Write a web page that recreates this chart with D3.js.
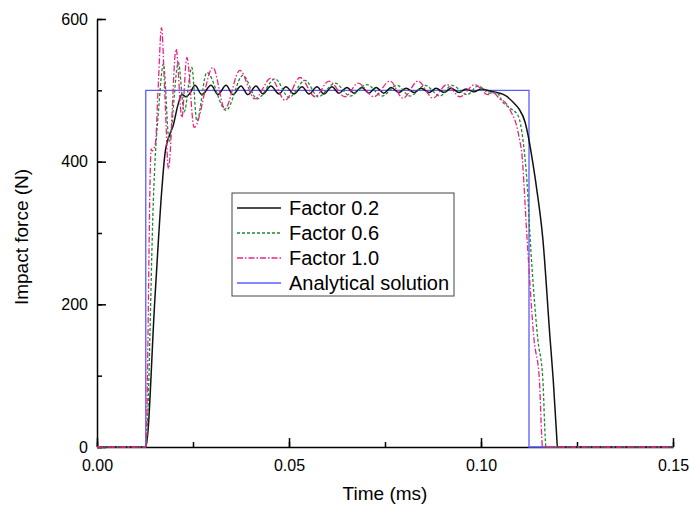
<!DOCTYPE html>
<html>
<head>
<meta charset="utf-8">
<script src="https://cdn.jsdelivr.net/npm/d3@7"></script>
<style>
  body { margin: 0; background: #fff; }
  svg { display: block; font-family: 'Liberation Sans', Arial, sans-serif; }
</style>
</head>
<body>
<svg id="chart" width="690" height="506"></svg>
<script>
// --- Values: [time (ms), force (N)] ---
const factor02 = [
  [0, 0], [0.0127, 0], [0.0151, 210], [0.0168, 355], [0.0177, 411], [0.0190, 439],
  [0.0198, 450], [0.0211, 480], [0.0221, 494], [0.0232, 491], [0.0242, 496],
  [0.0255, 507], [0.0273, 494], [0.0297, 507], [0.0315, 494], [0.0336, 507],
  [0.0354, 494], [0.0375, 506], [0.0393, 494], [0.0414, 506], [0.0432, 495],
  [0.0453, 506], [0.0474, 495], [0.0492, 505], [0.0513, 495], [0.0534, 505],
  [0.0552, 495], [0.0573, 505], [0.0591, 495], [0.0612, 505], [0.0630, 496],
  [0.0651, 504], [0.0669, 496], [0.0690, 504], [0.0708, 496], [0.0727, 504],
  [0.0747, 496], [0.0766, 504], [0.0786, 497], [0.0805, 503], [0.0826, 497],
  [0.0844, 503], [0.0865, 497], [0.0883, 503], [0.0904, 497], [0.0922, 503],
  [0.0943, 497], [0.0961, 502], [0.0982, 498], [0.1000, 502], [0.1023, 499],
  [0.1063, 493], [0.1086, 482], [0.1099, 474], [0.1115, 455], [0.1123, 436],
  [0.1132, 408], [0.1145, 362], [0.1161, 292], [0.1180, 151], [0.1188, 95],
  [0.1197, 16], [0.1199, 0], [0.15, 0]
];

const factor06 = [
  [0, 0], [0.0127, 0], [0.0148, 364], [0.0151, 400], [0.0160, 470], [0.0173, 537],
  [0.0188, 428], [0.0212, 539], [0.0227, 470], [0.0247, 532], [0.0260, 457],
  [0.0286, 525], [0.0336, 472], [0.0380, 521], [0.0417, 488], [0.0464, 516],
  [0.0500, 490], [0.0542, 514], [0.0576, 491], [0.0620, 510], [0.0659, 492],
  [0.0703, 508], [0.0742, 492], [0.0781, 507], [0.0815, 492], [0.0854, 507],
  [0.0893, 492], [0.0924, 507], [0.0964, 494], [0.0992, 506], [0.1023, 496],
  [0.1041, 497], [0.1057, 483], [0.1076, 475], [0.1097, 464], [0.1110, 427],
  [0.1120, 370], [0.1128, 292], [0.1148, 151], [0.1161, 95], [0.1167, 16],
  [0.1169, 0], [0.15, 0]
];

const factor10 = [
  [0, 0], [0.0127, 0], [0.0141, 418], [0.0143, 415], [0.0152, 425], [0.0159, 500],
  [0.0168, 588], [0.0177, 490], [0.0186, 390], [0.0206, 558], [0.0221, 462],
  [0.0234, 546], [0.0253, 448], [0.0302, 532], [0.0333, 474], [0.0372, 528],
  [0.0411, 488], [0.0453, 517], [0.0490, 486], [0.0529, 518], [0.0568, 491],
  [0.0604, 513], [0.0646, 491], [0.0680, 510], [0.0721, 491], [0.0763, 513],
  [0.0797, 489], [0.0836, 513], [0.0875, 489], [0.0911, 508], [0.0945, 491],
  [0.0984, 508], [0.1018, 494], [0.1031, 497], [0.1049, 488], [0.1063, 483],
  [0.1078, 470], [0.1093, 450], [0.1100, 432], [0.1106, 413], [0.1120, 292],
  [0.1138, 151], [0.1152, 95], [0.1158, 16], [0.1160, 0], [0.15, 0]
];

const analytical = [
  [0, 0], [0.0127, 0], [0.0127, 500], [0.1125, 500], [0.1125, 0], [0.15, 0]
];

const seriesNames = ['Factor 0.2', 'Factor 0.6', 'Factor 1.0', 'Analytical solution'];
const xTicks = [0, 0.05, 0.10, 0.15];
const yTicks = [0, 200, 400, 600];

// --- Scales ---
const svg = d3.select('#chart');
const x = d3.scaleLinear().domain([0, 0.15]).range([97, 673]);
const y = d3.scaleLinear().domain([0, 600]).range([447, 19]);

// --- Axes (ticks point inward, no top/right frame) ---
const xMinor = d3.range(0, 0.1501, 0.025);
const yMinor = d3.range(0, 601, 100);

svg.append('g')
  .attr('transform', 'translate(0,447)')
  .call(d3.axisBottom(x).tickValues(xMinor).tickSize(-5).tickFormat(''))
  .call(g => g.select('.domain').remove());

svg.append('g')
  .attr('transform', 'translate(0,447)')
  .call(d3.axisBottom(x).tickValues(xTicks).tickSize(-9).tickSizeOuter(0)
    .tickPadding(13).tickFormat(d3.format('.2f')));

svg.append('g')
  .attr('transform', 'translate(97,0)')
  .call(d3.axisLeft(y).tickValues(yMinor).tickSize(-5).tickFormat(''))
  .call(g => g.select('.domain').remove());

svg.append('g')
  .attr('transform', 'translate(97,0)')
  .call(d3.axisLeft(y).tickValues(yTicks).tickSize(-9).tickSizeOuter(0).tickPadding(9));

svg.selectAll('.tick line').attr('stroke', '#000').attr('stroke-width', 1.5);
svg.selectAll('.domain').attr('stroke', '#000').attr('stroke-width', 1.5);
svg.selectAll('.tick text').attr('font-size', 16).attr('fill', '#000')
  .attr('font-family', "'Liberation Sans', Arial, sans-serif");

// --- Axis titles ---
svg.append('text')
  .attr('x', 385).attr('y', 500)
  .attr('text-anchor', 'middle')
  .attr('font-size', 19)
  .text('Time (ms)');

svg.append('text')
  .attr('transform', 'translate(28,237) rotate(-90)')
  .attr('text-anchor', 'middle')
  .attr('font-size', 19)
  .text('Impact force (N)');

// --- Curves ---
const styles = [
  { data: factor02, color: '#111111', width: 1.5, dash: null, curve: d3.curveMonotoneX },
  { data: factor06, color: '#1f8a2a', width: 1.3, dash: '3,2', curve: d3.curveMonotoneX },
  { data: factor10, color: '#ee2286', width: 1.3, dash: '6,2,1.5,2', curve: d3.curveMonotoneX },
  { data: analytical, color: '#5c5cff', width: 1.3, dash: null, curve: d3.curveLinear }
];

// analytical first so the model curves sit on top of it
[3, 0, 1, 2].forEach(i => {
  const s = styles[i];
  const line = d3.line()
    .x(d => x(d[0]))
    .y(d => y(d[1]))
    .curve(s.curve);
  svg.append('path')
    .datum(s.data)
    .attr('d', line)
    .attr('fill', 'none')
    .attr('stroke', s.color)
    .attr('stroke-width', s.width)
    .attr('stroke-dasharray', s.dash);
});

// --- Legend ---
const legend = svg.append('g');
legend.append('rect')
  .attr('x', 232).attr('y', 193)
  .attr('width', 222).attr('height', 103)
  .attr('fill', '#fff')
  .attr('stroke', '#444')
  .attr('stroke-width', 1);

seriesNames.forEach((name, i) => {
  const s = styles[i];
  const yy = 208 + i * 25;
  legend.append('line')
    .attr('x1', 237).attr('x2', 281)
    .attr('y1', yy).attr('y2', yy)
    .attr('stroke', s.color)
    .attr('stroke-width', s.width)
    .attr('stroke-dasharray', s.dash);
  legend.append('text')
    .attr('x', 289).attr('y', yy + 7)
    .attr('font-size', 20)
    .text(name);
});
</script>
</body>
</html>
